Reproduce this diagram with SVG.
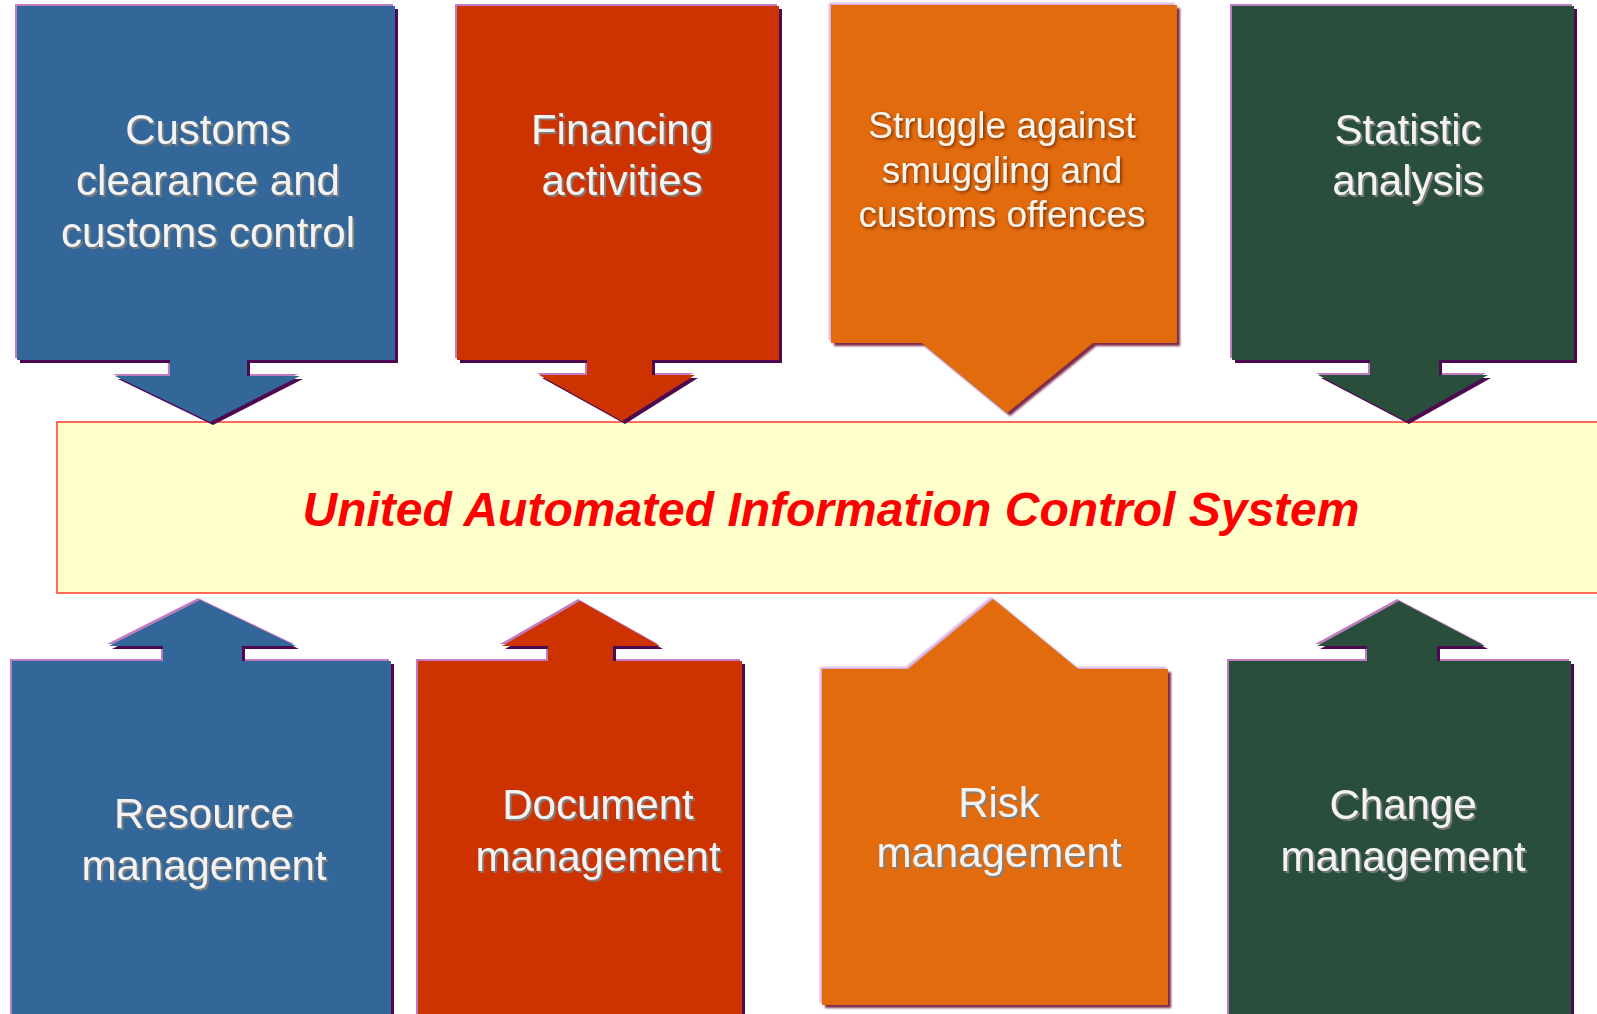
<svg xmlns="http://www.w3.org/2000/svg" width="1597" height="1014" viewBox="0 0 1597 1014">
<defs>
<style>
.lbl{font-family:"Liberation Sans",Arial,sans-serif;font-size:42px;fill:#F3F3F3;text-anchor:middle;filter:url(#ts)}
.lbl2{font-family:"Liberation Sans",Arial,sans-serif;font-size:37px;fill:#FAF3E8;text-anchor:middle;filter:url(#ts2)}
.hl{fill:#C07CC0}
.sh{fill:#4E0A50}
.hlo{fill:#D4A8D8}
.sho{fill:#7E2A4A}
.blue{fill:#336699}
.red{fill:#CC3300}
.orange{fill:#E26B0E}
.green{fill:#2A4E3C}
.title{font-family:"Liberation Sans",Arial,sans-serif;font-size:48px;font-weight:bold;font-style:italic;fill:#FF0000;text-anchor:middle}
</style>
<filter id="ts" x="-10%" y="-30%" width="120%" height="160%">
<feDropShadow dx="2" dy="2" stdDeviation="0.6" flood-color="#7F7F7F" flood-opacity="0.9"/>
</filter>
<filter id="ts2" x="-10%" y="-30%" width="120%" height="160%">
<feDropShadow dx="1.5" dy="1.5" stdDeviation="1.4" flood-color="#6A2A00" flood-opacity="0.9"/>
</filter>
<filter id="soft" x="-5%" y="-5%" width="110%" height="110%">
<feGaussianBlur stdDeviation="0.8"/>
</filter>
<path id="p-blue-top" d="M17,6 H395 V360 H247 V376 H300 L210,422 L115,376 H170 V360 H17 Z"/>
<path id="p-red-top" d="M457,6 H779 V360 H652 V375 H695 L622,421 L539,375 H587 V360 H457 Z"/>
<path id="p-orange-top" d="M831,5 H1177 V343 H1093 L1007,413 L922,343 H831 Z"/>
<path id="p-green-top" d="M1232,6 H1574 V360 H1439 V375 H1488 L1406,421 L1318,375 H1370 V360 H1232 Z"/>
<path id="p-blue-bot" d="M12,661 H163 V646 H109 L200,600 L296,646 H242 V661 H391 V1030 H12 Z"/>
<path id="p-red-bot" d="M418,661 H548 V646 H502 L580,601 L660,646 H613 V661 H742 V1030 H418 Z"/>
<path id="p-orange-bot" d="M822,669 H908 L993,599 L1078,669 H1168 V1005 H822 Z"/>
<path id="p-green-bot" d="M1229,661 H1367 V646 H1317 L1399,601 L1485,646 H1437 V661 H1571 V1030 H1229 Z"/>
</defs>
<rect width="1597" height="1014" fill="#FFFFFF"/>

<g id="system">
<rect x="57" y="422" width="1545" height="171" fill="#FFFFCC" stroke="#FF3A2A" stroke-width="1.5"/>
<text class="title" x="831" y="526">United Automated Information Control System</text>
</g>

<g id="connectors"></g>

<g id="customs-clearance">
<use href="#p-blue-top" class="hl" transform="translate(-2,-2)"/>
<use href="#p-blue-top" class="sh" transform="translate(3,3)"/>
<use href="#p-blue-top" class="blue"/>
<text class="lbl" x="208" y="144">Customs</text>
<text class="lbl" x="208" y="195">clearance and</text>
<text class="lbl" x="208" y="247">customs control</text>
</g>

<g id="financing">
<use href="#p-red-top" class="hl" transform="translate(-2,-2)"/>
<use href="#p-red-top" class="sh" transform="translate(3,3)"/>
<use href="#p-red-top" class="red"/>
<text class="lbl" x="622" y="144">Financing</text>
<text class="lbl" x="622" y="195">activities</text>
</g>

<g id="struggle">
<g filter="url(#soft)">
<use href="#p-orange-top" class="hlo" transform="translate(-2,-2)"/>
<use href="#p-orange-top" class="sho" transform="translate(3,3)"/>
</g>
<use href="#p-orange-top" class="orange"/>
<text class="lbl2" x="1002" y="138">Struggle against</text>
<text class="lbl2" x="1002" y="183">smuggling and</text>
<text class="lbl2" x="1002" y="227">customs offences</text>
</g>

<g id="statistic">
<use href="#p-green-top" class="hl" transform="translate(-2,-2)"/>
<use href="#p-green-top" class="sh" transform="translate(3,3)"/>
<use href="#p-green-top" class="green"/>
<text class="lbl" x="1408" y="144">Statistic</text>
<text class="lbl" x="1408" y="195">analysis</text>
</g>

<g id="resource">
<use href="#p-blue-bot" class="hl" transform="translate(-2,-2)"/>
<use href="#p-blue-bot" class="sh" transform="translate(3,3)"/>
<use href="#p-blue-bot" class="blue"/>
<text class="lbl" x="204" y="828">Resource</text>
<text class="lbl" x="204" y="880">management</text>
</g>

<g id="document">
<use href="#p-red-bot" class="hl" transform="translate(-2,-2)"/>
<use href="#p-red-bot" class="sh" transform="translate(3,3)"/>
<use href="#p-red-bot" class="red"/>
<text class="lbl" x="598" y="819">Document</text>
<text class="lbl" x="598" y="871">management</text>
</g>

<g id="risk">
<g filter="url(#soft)">
<use href="#p-orange-bot" class="hlo" transform="translate(-2,-2)"/>
<use href="#p-orange-bot" class="sho" transform="translate(3,3)"/>
</g>
<use href="#p-orange-bot" class="orange"/>
<text class="lbl" x="999" y="817">Risk</text>
<text class="lbl" x="999" y="867">management</text>
</g>

<g id="change">
<use href="#p-green-bot" class="hl" transform="translate(-2,-2)"/>
<use href="#p-green-bot" class="sh" transform="translate(3,3)"/>
<use href="#p-green-bot" class="green"/>
<text class="lbl" x="1403" y="819">Change</text>
<text class="lbl" x="1403" y="871">management</text>
</g>
</svg>
